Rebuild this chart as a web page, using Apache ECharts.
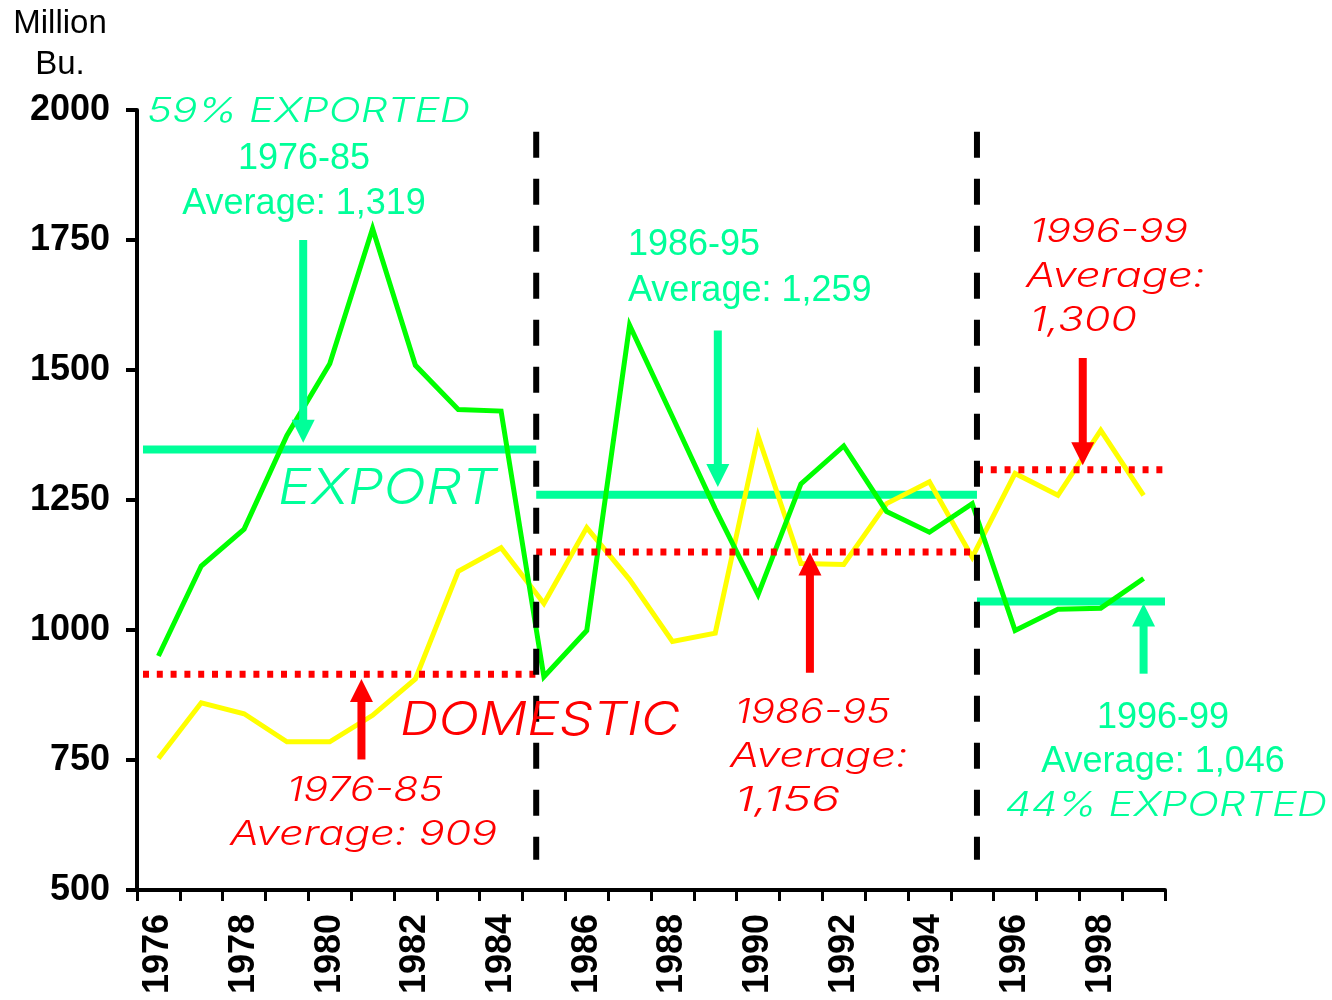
<!DOCTYPE html>
<html>
<head>
<meta charset="utf-8">
<script src="https://cdn.jsdelivr.net/npm/echarts@6/dist/echarts.min.js"></script>
<style>html,body{margin:0;padding:0;background:#fff;}#c{width:1332px;height:1000px;}</style>
</head>
<body>
<div id="c"></div>
<script>
// ---- data ----
const years = ['1976','1977','1978','1979','1980','1981','1982','1983','1984','1985','1986','1987',
               '1988','1989','1990','1991','1992','1993','1994','1995','1996','1997','1998','1999'];
const exportVals   = [950,1123,1194,1374,1512,1772,1509,1424,1421,910,999,1586,1410,1233,1068,1281,1354,1228,1188,1243,999,1040,1042,1099];
const domesticVals = [753,860,839,785,785,836,906,1113,1158,1051,1197,1097,978,994,1373,1128,1126,1243,1285,1140,1301,1259,1384,1259];
// period averages as drawn (start/end in year units)
const periodStart = [1975.64, 1984.82, 1995.11];
const periodEnd   = [1984.82, 1995.11, 1999.5];
const exportAvgDrawn   = [1347, 1260, 1055];
const domesticAvgDrawn = [915, 1150, 1308];
// period dividers
const dividerYears = [1984.82, 1995.11];
const dividerRange = [558, 1958];
// arrows: [year, fromValue, tipValue]
const exportArrows   = [[1979.38, 1750, 1360], [1989.06, 1576, 1275], [1999.0, 916, 1051]];
const domesticArrows = [[1980.74, 751, 906], [1991.21, 918, 1149], [1997.58, 1523, 1317]];

// ---- styles ----
const FF = '"Liberation Sans", Arial, sans-serif';
const FI = 'Inter, "Liberation Sans", sans-serif';
const GREEN_T = '#00FF99', LIME = '#00FF00', YEL = '#FFFF00', RED = '#FF0000';

const chart = echarts.init(document.getElementById('c'), null, {renderer: 'canvas'});

function seg(x1, x2, y, color, width, type, z) {
  return {
    type: 'line', xAxisIndex: 1, yAxisIndex: 0, data: [[x1, y], [x2, y]],
    symbol: 'none', silent: true, animation: false, z: z,
    lineStyle: {color: color, width: width, type: type, cap: 'butt'}
  };
}
function arrowSeries(arr, color, z) {
  return {
    type: 'custom', xAxisIndex: 1, yAxisIndex: 0, data: arr, z: z, silent: true, animation: false,
    renderItem: function (params, api) {
      const s = api.coord([api.value(0), api.value(1)]);
      const t = api.coord([api.value(0), api.value(2)]);
      const d = t[1] > s[1] ? 1 : -1;
      const h = 23, w = 23;
      const e = t[1] - d * h + d;
      return {
        type: 'group', children: [
          {type: 'rect', shape: {x: s[0] - 4, y: Math.min(s[1], e), width: 8, height: Math.abs(e - s[1])},
           style: {fill: color}},
          {type: 'polygon', shape: {points: [[t[0], t[1]], [t[0] - w / 2, t[1] - d * h], [t[0] + w / 2, t[1] - d * h]]},
           style: {fill: color}}
        ]
      };
    }
  };
}

const series = [];
periodStart.forEach((s, i) => series.push(seg(s, periodEnd[i], exportAvgDrawn[i], GREEN_T, 8, 'solid', 2)));
series.push({type: 'line', name: 'Domestic', data: domesticVals, symbol: 'none', animation: false, z: 3,
  lineStyle: {color: YEL, width: 5, join: 'miter'}});
series.push({type: 'line', name: 'Export', data: exportVals, symbol: 'none', animation: false, z: 4,
  lineStyle: {color: LIME, width: 5, join: 'miter'}});
periodStart.forEach((s, i) => series.push(seg(s, periodEnd[i], domesticAvgDrawn[i], RED, 7, [6, 7.8], 5)));
series.push(arrowSeries(exportArrows, GREEN_T, 6));
series.push(arrowSeries(domesticArrows, RED, 6));
dividerYears.forEach(x => series.push({
  type: 'line', xAxisIndex: 1, yAxisIndex: 0, data: [[x, dividerRange[1]], [x, dividerRange[0]]],
  symbol: 'none', silent: true, animation: false, z: 7,
  lineStyle: {color: '#000', width: 6, type: [26, 21], cap: 'butt'}
}));

// plain (upright) annotation text
function txt(text, x, y, size, color, align) {
  return {
    type: 'text', x: x, y: y, z: 100, silent: true,
    style: {
      text: text, fontSize: size, fontFamily: FF, fontWeight: 'normal', fill: color,
      textAlign: align, textVerticalAlign: 'middle', align: align, verticalAlign: 'middle'
    }
  };
}
// light italic annotation text, stretched to the reference's text width
const mctx = document.createElement('canvas').getContext('2d');
function itxt(text, left, y, size, color, width) {
  mctx.font = 'italic 300 ' + size + 'px ' + FI;
  const mw = mctx.measureText(text).width || width;
  return {
    type: 'text', x: left, y: y, z: 100, silent: true, scaleX: width / mw,
    style: {
      text: text, fontSize: size, fontFamily: FI, fontWeight: 300, fontStyle: 'italic', fill: color,
      textAlign: 'left', textVerticalAlign: 'middle', align: 'left', verticalAlign: 'middle'
    }
  };
}

const graphics = [
  txt('Million', 60, 24, 33, '#000', 'center'),
  txt('Bu.', 60, 65, 33, '#000', 'center'),
  itxt('59% EXPORTED', 147, 112, 34, GREEN_T, 323),
  txt('1976-85', 304, 159, 36, GREEN_T, 'center'),
  txt('Average: 1,319', 304, 204, 36, GREEN_T, 'center'),
  txt('1986-95', 628, 245, 36, GREEN_T, 'left'),
  txt('Average: 1,259', 628, 291, 36, GREEN_T, 'left'),
  itxt('1996-99', 1030, 232, 33, RED, 158),
  itxt('Average:', 1026, 277, 34, RED, 179),
  itxt('1,300', 1030, 321, 34, RED, 107),
  itxt('EXPORT', 278, 489, 49, GREEN_T, 219),
  itxt('DOMESTIC', 400, 721, 46, RED, 280),
  itxt('1976-85', 287, 791, 34, RED, 156),
  itxt('Average: 909', 230, 835, 34, RED, 267),
  itxt('1986-95', 735, 713, 34, RED, 155),
  itxt('Average:', 730, 757, 34, RED, 178),
  itxt('1,156', 735, 801, 34, RED, 105),
  txt('1996-99', 1163, 718, 36, GREEN_T, 'center'),
  txt('Average: 1,046', 1163, 762, 36, GREEN_T, 'center'),
  itxt('44% EXPORTED', 1005, 806, 34, GREEN_T, 322)
];

chart.setOption({
  animation: false,
  backgroundColor: '#fff',
  grid: {left: 137, right: 167, top: 110, bottom: 110, containLabel: false},
  xAxis: [{
    type: 'category', data: years, boundaryGap: true,
    axisLine: {lineStyle: {color: '#000', width: 4}},
    axisTick: {show: true, interval: 0, length: 11, lineStyle: {color: '#000', width: 3}},
    axisLabel: {interval: 1, rotate: 90, margin: 24, color: '#000', fontFamily: FF, fontWeight: 'bold', fontSize: 36},
    splitLine: {show: false}
  }, {
    type: 'value', min: 1975.5, max: 1999.5, show: false, position: 'bottom'
  }],
  yAxis: {
    type: 'value', min: 500, max: 2000, interval: 250,
    axisLine: {show: true, lineStyle: {color: '#000', width: 4}},
    axisTick: {show: true, length: 11, lineStyle: {color: '#000', width: 4}},
    axisLabel: {margin: 27, color: '#000', fontFamily: FF, fontWeight: 'bold', fontSize: 36,
                formatter: v => String(v)},
    splitLine: {show: false}
  },
  series: series,
  graphic: graphics
});
</script>
</body>
</html>
